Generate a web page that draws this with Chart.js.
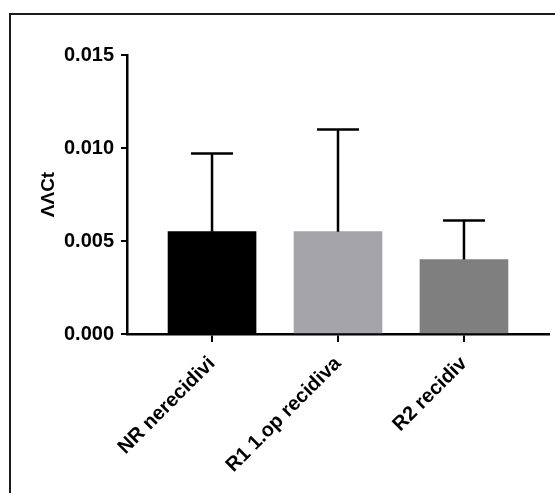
<!DOCTYPE html>
<html>
<head>
<meta charset="utf-8">
<script src="https://cdn.jsdelivr.net/npm/chart.js@4"></script>
<style>
  html, body { margin: 0; padding: 0; background: #fff; }
  #wrap { position: relative; width: 555px; height: 493px; overflow: hidden; }
  #frame { position: absolute; left: 9px; top: 13px; width: 600px; height: 600px;
           border-left: 2px solid #1a1a1a; border-top: 2px solid #1a1a1a; pointer-events: none; }
  canvas { position: absolute; left: 0; top: 0; }
</style>
</head>
<body>
<div id="wrap">
  <canvas id="c" width="555" height="493"></canvas>
  <div id="frame"></div>
</div>
<script>
const categories = ['NR nerecidivi', 'R1 1.op recidiva', 'R2 recidiv'];
const means = [0.0055, 0.0055, 0.0040];
const sds = [0.0042, 0.0055, 0.0021];
const barColors = ['#000000', '#a5a4a8', '#7f7f7f'];
const yTicks = [0, 0.005, 0.010, 0.015];
const yTitle = 'ΛΛCt';

const FONT = "'Liberation Sans', Arial, sans-serif";

const errorBars = {
  id: 'errorBars',
  afterDatasetsDraw(chart) {
    const meta = chart.getDatasetMeta(0);
    const ys = chart.scales.y;
    const ctx = chart.ctx;
    ctx.save();
    ctx.strokeStyle = '#000';
    ctx.lineWidth = 2.5;
    meta.data.forEach((bar, i) => {
      const x = bar.x;
      const yb = ys.getPixelForValue(means[i]);
      const yt = ys.getPixelForValue(means[i] + sds[i]);
      ctx.beginPath();
      ctx.moveTo(x, yb);
      ctx.lineTo(x, yt);
      ctx.moveTo(x - 21, yt);
      ctx.lineTo(x + 21, yt);
      ctx.stroke();
    });
    ctx.restore();
  }
};

new Chart(document.getElementById('c'), {
  type: 'bar',
  data: {
    datasets: [{
      data: means.map((v, i) => ({ x: i, y: v })),
      backgroundColor: barColors,
      borderWidth: 0,
      barThickness: 88
    }]
  },
  options: {
    responsive: false,
    animation: false,
    devicePixelRatio: 1,
    layout: { padding: { left: 0, top: 55, right: 6, bottom: 0 } },
    plugins: { legend: { display: false }, tooltip: { enabled: false } },
    scales: {
      x: {
        type: 'linear',
        offset: false,
        min: -0.675,
        max: 2.675,
        afterBuildTicks(scale) { scale.ticks = categories.map((c, i) => ({ value: i })); },
        afterFit(scale) { scale.height = 159; },
        grid: { drawOnChartArea: false, drawTicks: true, tickLength: 8, color: '#000', lineWidth: 2, offset: false },
        border: { color: '#000', width: 2.5 },
        ticks: {
          autoSkip: false,
          minRotation: 45, maxRotation: 45,
          color: '#000',
          padding: 10,
          font: { family: FONT, size: 20, weight: 'bold' },
          callback: (v) => (Number.isInteger(v) && categories[v]) ? categories[v] : ''
        }
      },
      y: {
        min: 0,
        max: 0.015,
        afterBuildTicks(scale) { scale.ticks = yTicks.map(v => ({ value: v })); },
        afterFit(scale) { scale.width = 127; },
        grid: { drawOnChartArea: false, drawTicks: true, tickLength: 6, color: '#000', lineWidth: 2 },
        border: { color: '#000', width: 2.5 },
        title: {
          display: true,
          text: yTitle,
          color: '#000',
          font: { family: FONT, size: 19, weight: 'bold' },
          padding: { top: 37, bottom: 0 }
        },
        ticks: {
          color: '#000',
          padding: 7,
          font: { family: FONT, size: 20, weight: 'bold' },
          callback: (v) => v.toFixed(3)
        }
      }
    }
  },
  plugins: [errorBars]
});
</script>
</body>
</html>
